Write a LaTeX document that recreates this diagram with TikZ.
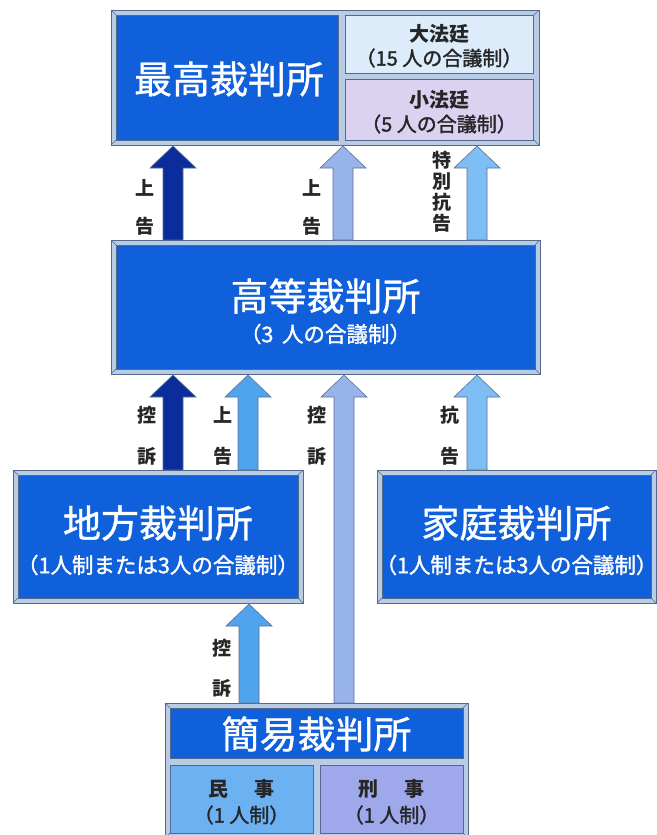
\documentclass[tikz,border=0pt]{standalone}
\usepackage{fontspec}
\setmainfont{Noto Sans CJK JP}
\newfontfamily\medfont{Noto Sans CJK JP}[FakeBold=1.6]
\newfontfamily\titfont{Noto Sans CJK JP}[FakeBold=1.0]
\definecolor{framec}{HTML}{B8CCE6}
\definecolor{edgec}{HTML}{56698A}
\definecolor{courtc}{HTML}{0F60DA}
\definecolor{daic}{HTML}{DCECFA}
\definecolor{shoc}{HTML}{DAD2F0}
\definecolor{minc}{HTML}{6CB2F2}
\definecolor{keic}{HTML}{9EA8EA}
\definecolor{navyc}{HTML}{0B2D9C}
\definecolor{peric}{HTML}{98B2EA}
\definecolor{lskyc}{HTML}{7EBEF4}
\definecolor{skyc}{HTML}{50A4EE}
\definecolor{arrline}{HTML}{5A7090}
\newcommand\bevelbox[5]{%
  \filldraw[frame] (#1,#2) rectangle (#3,#4);
  \draw[edgec, line width=0.4pt] (#1,#2) -- ++(#5,#5) (#3,#2) -- ++(-#5,#5)
     (#1,#4) -- ++(#5,-#5) (#3,#4) -- ++(-#5,-#5);}
% x, base y, tip y, colour
\newcommand\blockarrow[4]{%
  \filldraw[arr, fill=#4] (#1-10,#2) -- (#1-10,#3+22) -- (#1-23,#3+22) -- (#1,#3)
     -- (#1+23,#3+22) -- (#1+10,#3+22) -- (#1+10,#2) -- cycle;}
\begin{document}
\begin{tikzpicture}[x=1pt,y=-1pt,
  frame/.style={fill=framec, draw=edgec, line width=0.6pt},
  court/.style={fill=courtc, draw=edgec, line width=0.5pt, inner sep=0pt},
  cell/.style={draw=edgec, line width=0.5pt, inner sep=0pt},
  title/.style={text=white, inner sep=0pt, font=\titfont\fontsize{38}{42}\selectfont},
  sub/.style={text=white, inner sep=0pt, font=\medfont\fontsize{21.5}{24}\selectfont},
  celltitle/.style={text=black!85, inner sep=0pt, font=\fontsize{20}{22}\selectfont\bfseries},
  cellsub/.style={text=black!85, inner sep=0pt, font=\medfont\fontsize{20}{22}\selectfont},
  lbl/.style={text=black!85, inner sep=0pt, font=\fontsize{19}{21}\selectfont\bfseries, align=center},
  arr/.style={draw=arrline, line width=0.6pt, line join=miter}]
\useasboundingbox (0,0) rectangle (656,835);

% ---------------- Supreme court
\bevelbox{111}{10}{539}{145}{5}
\node[court, minimum width=222pt, minimum height=125pt] (sc) at (227,77.5) {};
\node[title] (sct) at (229,79) {最高裁判所};
\node[cell, fill=daic, minimum width=188pt, minimum height=58pt] (dai) at (439,44) {};
\node[celltitle] (dait) at (439,34) {大法廷};
\node[cellsub] (dais) at (439,58) {（15 人の合議制）};
\node[cell, fill=shoc, minimum width=188pt, minimum height=61pt] (sho) at (439,109.5) {};
\node[celltitle] (shot) at (439,100) {小法廷};
\node[cellsub] (shos) at (439,124) {（5 人の合議制）};

% ---------------- High court
\bevelbox{111}{240}{540}{374}{5}
\node[court, minimum width=419pt, minimum height=124pt] (hc) at (325.5,307) {};
\node[title] (hct) at (325.5,296) {高等裁判所};
\node[sub] (hcs) at (325.5,334) {（3\hspace{0.4em}人の合議制）};

% ---------------- District court
\bevelbox{13}{470}{303}{603}{5}
\node[court, minimum width=280pt, minimum height=123pt] (dc) at (158,536.5) {};
\node[title] (dct) at (158,523) {地方裁判所};
\node[sub] (dcs) at (158,565) {（1人制または3人の合議制）};

% ---------------- Family court
\bevelbox{377}{470}{656}{603}{5}
\node[court, minimum width=269pt, minimum height=123pt] (fc) at (516.5,536.5) {};
\node[title] (fct) at (516.5,523) {家庭裁判所};
\node[sub] (fcs) at (516.5,565) {（1人制または3人の合議制）};

% ---------------- Summary court
\bevelbox{165}{703}{468}{838}{5}
\node[court, minimum width=293pt, minimum height=50pt] (smc) at (316.5,733) {};
\node[title] (smct) at (316.5,734) {簡易裁判所};
\node[cell, fill=minc, minimum width=143pt, minimum height=68pt] (min) at (241.5,799) {};
\node[celltitle] (mint) at (241.5,789) {民\hspace{1.3em}事};
\node[cellsub] (mins) at (241.5,815) {（1 人制）};
\node[cell, fill=keic, minimum width=143pt, minimum height=68pt] (kei) at (391.5,799) {};
\node[celltitle] (keit) at (391.5,789) {刑\hspace{1.3em}事};
\node[cellsub] (keis) at (391.5,815) {（1 人制）};

% ---------------- Arrows: high -> supreme
\blockarrow{173}{240}{146}{navyc}
\blockarrow{343}{240}{146}{peric}
\blockarrow{477}{240}{146}{lskyc}
\node[lbl] (l1a) at (145,188) {上};
\node[lbl] (l1b) at (145,226) {告};
\node[lbl] (l2a) at (312,188) {上};
\node[lbl] (l2b) at (312,226) {告};
\node[lbl] (l3) at (442,192) {特\\別\\抗\\告};

% ---------------- Arrows: district/family/summary -> high
\blockarrow{173}{470}{375}{navyc}
\blockarrow{248}{470}{375}{skyc}
\blockarrow{344}{703}{375}{peric}
\blockarrow{477}{470}{375}{lskyc}
\node[lbl] (m1a) at (147,415) {控};
\node[lbl] (m1b) at (147,456) {訴};
\node[lbl] (m2a) at (223,415) {上};
\node[lbl] (m2b) at (223,456) {告};
\node[lbl] (m3a) at (317,415) {控};
\node[lbl] (m3b) at (317,456) {訴};
\node[lbl] (m4a) at (450,415) {抗};
\node[lbl] (m4b) at (450,456) {告};

% ---------------- Arrow: summary -> district
\blockarrow{249}{703}{604}{skyc}
\node[lbl] (b1a) at (222,648) {控};
\node[lbl] (b1b) at (222,688) {訴};
\end{tikzpicture}
\end{document}
